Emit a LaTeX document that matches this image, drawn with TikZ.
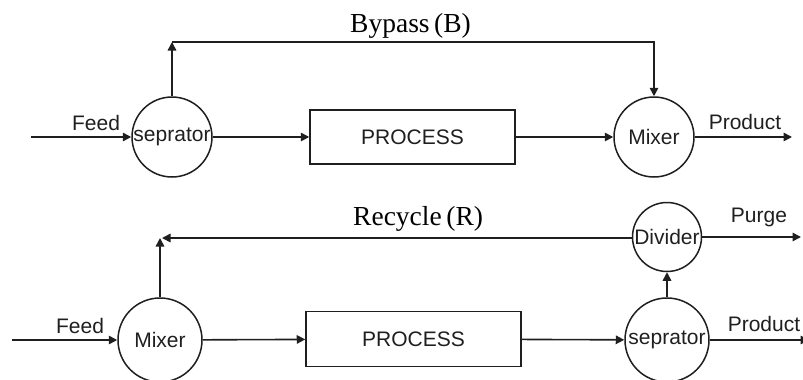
\documentclass[tikz,border=0pt]{standalone}
\usepackage{fontspec}
\setmainfont{Liberation Serif}
\setsansfont{Liberation Sans}
\usetikzlibrary{arrows.meta}
\begin{document}
\begin{tikzpicture}[x=1pt,y=-1pt,
  line/.style={draw=black!88, line width=1.6pt},
  arr/.style={line, -{Triangle[length=8.5pt,width=8.5pt]}},
  unit/.style={circle, draw=black!88, line width=1.5pt, inner sep=0pt,
    font=\sffamily\fontsize{21}{23}\selectfont, text=black!88},
  box/.style={rectangle, draw=black!88, line width=1.5pt, inner sep=0pt,
    font=\sffamily\fontsize{21}{23}\selectfont, text=black!88},
  lbl/.style={font=\sffamily\fontsize{21}{23}\selectfont, text=black!88, inner sep=0pt, anchor=base},
  title/.style={font=\fontsize{27.5}{30}\selectfont, inner sep=0pt, anchor=base west}]
\useasboundingbox (0,0) rectangle (803,380);

% ---------- top: bypass ----------
\node[unit, minimum size=80pt] (sepT) at (172,137) {seprator};
\node[box, minimum width=205pt, minimum height=54pt] (procT) at (412.5,137) {PROCESS};
\node[unit, minimum size=80pt] (mixT) at (654,137) {Mixer};
\coordinate (feedT) at (31,137);
\coordinate (prodT) at (792,137);
\coordinate (b1) at (172,42);
\coordinate (b2) at (654,42);

\node[lbl] (feedTl) at (96,130) {Feed};
\node[lbl] (prodTl) at (745,129) {Product};
\node[title] (bypass) at (350,32) {Bypass\,(B)};

\draw[arr] (feedT) -- (sepT);
\draw[arr] (sepT) -- (procT);
\draw[arr] (procT) -- (mixT);
\draw[arr] (mixT) -- (prodT);
\draw[arr] (sepT) -- (b1);
\draw[arr] (b1) -- (b2) -- (mixT);

% ---------- bottom: recycle ----------
\node[unit, minimum size=84pt] (mixB) at (160,340) {Mixer};
\node[box, minimum width=215pt, minimum height=55pt] (procB) at (413.5,339) {PROCESS};
\node[unit, minimum size=84pt] (sepB) at (667,340) {seprator};
\node[unit, minimum size=69pt] (divB) at (667,237) {Divider};
\coordinate (feedB) at (12,340);
\coordinate (prodB) at (809,340);
\coordinate (purgeB) at (801,237);
\coordinate (r1) at (160,238);
\coordinate (r2) at (162,238);

\node[lbl] (feedBl) at (80,333) {Feed};
\node[lbl] (prodBl) at (764,331) {Product};
\node[lbl] (purgel) at (759,222) {Purge};
\node[title] (recycle) at (353,225) {Recycle\,(R)};

\draw[arr] (feedB) -- (mixB);
\draw[arr] (mixB) -- (procB);
\draw[arr] (procB) -- (sepB);
\draw[arr] (sepB) -- (prodB);
\draw[arr] (sepB) -- (divB);
\draw[arr] (divB) -- (purgeB);
\draw[arr] (mixB) -- (r1);
\draw[arr] (divB.west |- r2) -- (r2);
\end{tikzpicture}
\end{document}
